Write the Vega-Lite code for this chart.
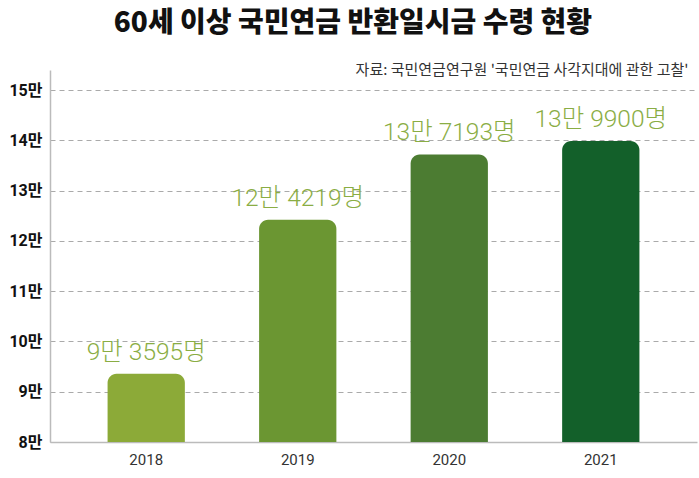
{
  "$schema": "https://vega.github.io/schema/vega-lite/v6.json",
  "width": 647,
  "height": 372,
  "autosize": {"type": "none"},
  "padding": {"left": 50, "top": 70, "right": 2, "bottom": 36},
  "background": "white",
  "title": {
    "text": "60세 이상 국민연금 반환일시금 수령 현황",
    "anchor": "middle",
    "frame": "bounds",
    "font": "Noto Sans CJK KR",
    "fontSize": 28,
    "fontWeight": 900,
    "color": "#111111",
    "offset": 24
  },
  "data": {
    "values": [
      {"year": "2018", "value": 93595, "label": "9만 3595명"},
      {"year": "2019", "value": 124219, "label": "12만 4219명"},
      {"year": "2020", "value": 137193, "label": "13만 7193명"},
      {"year": "2021", "value": 139900, "label": "13만 9900명"}
    ]
  },
  "config": {
    "view": {"stroke": null},
    "font": "Roboto, Noto Sans CJK KR"
  },
  "resolve": {"axis": {"x": "independent"}},
  "layer": [
    {
      "mark": {"type": "bar", "cornerRadiusTopLeft": 9, "cornerRadiusTopRight": 9},
      "encoding": {
        "x": {
          "field": "year",
          "type": "nominal",
          "scale": {"paddingInner": 0.49, "paddingOuter": 0.38},
          "axis": {
            "title": null,
            "labelAngle": 0,
            "labelFont": "Roboto",
            "labelFontSize": 15,
            "labelColor": "#333333",
            "labelPadding": 10,
            "ticks": false,
            "domainColor": "#bbbbbb",
            "domainWidth": 1.5
          }
        },
        "y": {
          "field": "value",
          "type": "quantitative",
          "scale": {"domain": [80000, 154000], "zero": false, "nice": false},
          "axis": {
            "title": null,
            "values": [80000, 90000, 100000, 110000, 120000, 130000, 140000, 150000],
            "labelExpr": "datum.value / 10000 + '만'",
            "labelFont": "Roboto, Noto Sans CJK KR",
            "labelFontSize": 16,
            "labelFontWeight": "bold",
            "labelColor": "#111111",
            "labelPadding": 8,
            "ticks": false,
            "domainColor": "#bbbbbb",
            "domainWidth": 1.5,
            "gridColor": "#aaaaaa",
            "gridDash": [5, 4],
            "gridWidth": 1
          }
        },
        "y2": {"datum": 80000},
        "color": {
          "field": "year",
          "type": "nominal",
          "scale": {
            "domain": ["2018", "2019", "2020", "2021"],
            "range": ["#8caa38", "#6b9632", "#4c7c32", "#13602a"]
          },
          "legend": null
        }
      }
    },
    {
      "mark": {
        "type": "text",
        "baseline": "alphabetic",
        "dy": -14,
        "fontSize": 24.5,
        "fontWeight": 300,
        "font": "Roboto, Noto Sans CJK KR",
        "color": "#8aad44"
      },
      "encoding": {
        "x": {
          "field": "year",
          "type": "nominal",
          "axis": {
            "orient": "top",
            "labels": false,
            "ticks": false,
            "domain": false,
            "grid": false,
            "title": "자료: 국민연금연구원 '국민연금 사각지대에 관한 고찰'",
            "titleFont": "Noto Sans CJK KR",
            "titleFontSize": 15,
            "titleFontWeight": "normal",
            "titleColor": "#333333",
            "titleAnchor": "end",
            "titleAlign": "right",
            "titleBaseline": "middle",
            "titlePadding": 1,
            "titleX": 638
          }
        },
        "y": {"field": "value", "type": "quantitative"},
        "text": {"field": "label"}
      }
    }
  ]
}
